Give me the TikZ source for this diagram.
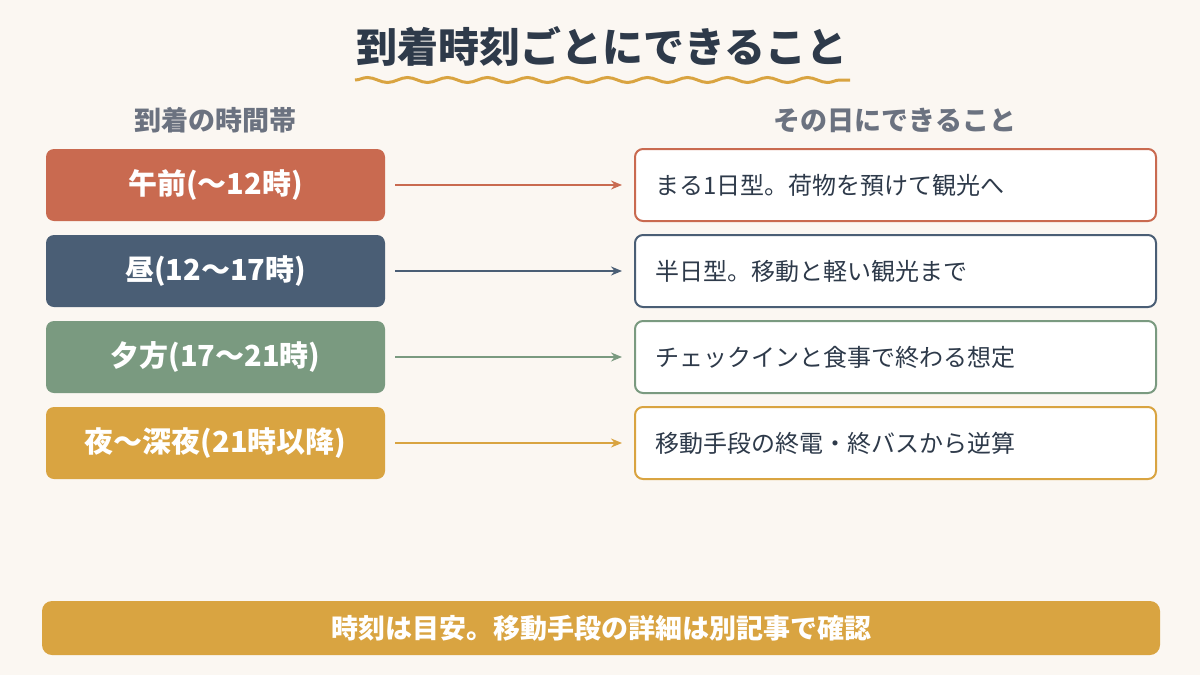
\documentclass[tikz,border=0pt]{standalone}
\usepackage{fontspec}
\setmainfont{Noto Sans CJK JP}
\usetikzlibrary{arrows.meta,decorations.pathmorphing,calc}
\definecolor{bg}{HTML}{FBF7F2}
\definecolor{ink}{HTML}{2E3A4A}
\definecolor{gr}{HTML}{6B7280}
\definecolor{cA}{HTML}{C96A50}
\definecolor{cB}{HTML}{4A5E75}
\definecolor{cC}{HTML}{7A9A80}
\definecolor{cD}{HTML}{D9A441}
\tikzset{
 lbox/.style={rounded corners=8pt,minimum width=339pt,minimum height=72pt,text=white,font=\fontsize{29}{32}\selectfont\bfseries,inner sep=0pt},
 rbox/.style={rounded corners=8pt,minimum width=521pt,minimum height=72pt,fill=white,line width=2pt,inner sep=0pt},
 rtxt/.style={anchor=west,text=ink,font=\fontsize{24}{28}\selectfont},
 arr/.style={line width=1.6pt,-{Stealth[length=11pt,width=9pt]}},
 hdr/.style={text=gr,font=\fontsize{27}{30}\selectfont\bfseries}
}
\begin{document}
\begin{tikzpicture}[x=1pt,y=-1pt]
\fill[bg] (0,0) rectangle (1200,675);
\useasboundingbox (0,0) rectangle (1200,675);
\node[text=ink,font=\fontsize{41}{46}\selectfont\bfseries] (title) at (602,46) {到着時刻ごとにできること};
\draw[cD,line width=3pt,decorate,decoration={snake,amplitude=2.5pt,segment length=40pt}] (355,80) -- (850,80);
\node[hdr] (h1) at (215,120) {到着の時間帯};
\node[hdr] (h2) at (895,120) {その日にできること};
\foreach \y/\c/\l/\r [count=\i] in {185/cA/午前(〜12時)/まる1日型。荷物を預けて観光へ,
 271/cB/昼(12〜17時)/半日型。移動と軽い観光まで,
 357/cC/夕方(17〜21時)/チェックインと食事で終わる想定,
 443/cD/夜〜深夜(21時以降)/移動手段の終電・終バスから逆算}{
 \node[lbox,fill=\c] (L\i) at (215.5,\y) {\l};
 \node[rbox,draw=\c] (R\i) at (895.5,\y) {};
 \node[rtxt] (T\i) at (652,\y) {\r};
 \draw[arr,\c] ($(L\i.east)+(10,0)$) -- ($(R\i.west)+(-12,0)$);
}
\node[rounded corners=10pt,fill=cD,minimum width=1118pt,minimum height=54pt,text=white,font=\fontsize{27}{30}\selectfont\bfseries] (foot) at (601,628) {時刻は目安。移動手段の詳細は別記事で確認};
\end{tikzpicture}
\end{document}
